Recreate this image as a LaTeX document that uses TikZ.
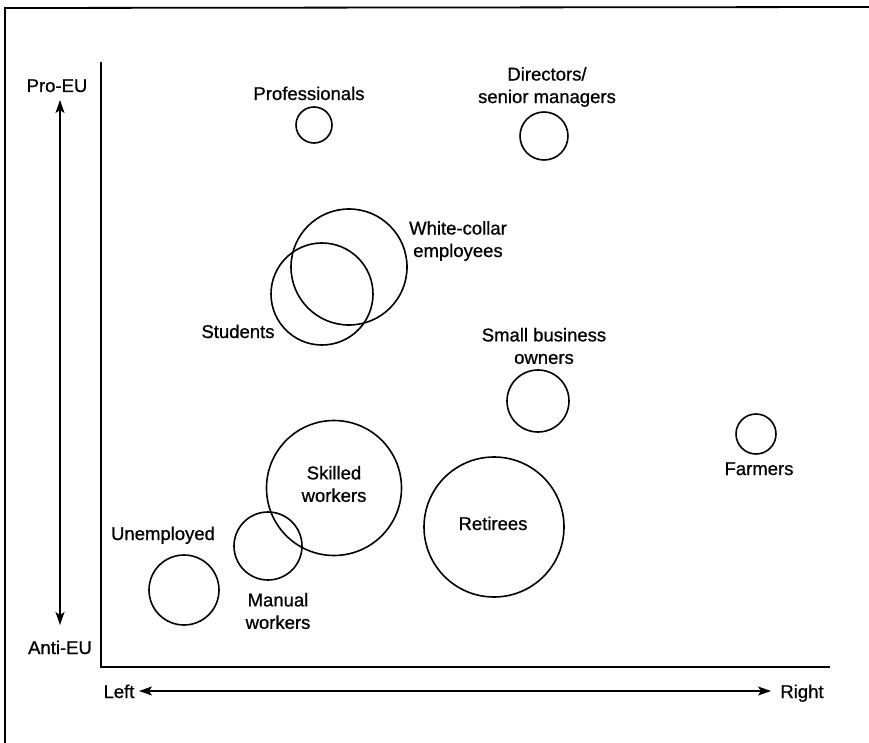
\documentclass[tikz,border=0pt]{standalone}
\usepackage{fontspec}
\setmainfont{Liberation Sans}[BoldFont=Liberation Sans,BoldFeatures={FakeBold=0.8}]
\usetikzlibrary{arrows.meta}
\begin{document}
\begin{tikzpicture}[x=1pt,y=-1pt,
  grp/.style={circle,draw,line width=1.6pt,minimum size=#1,inner sep=0pt},
  lbl/.style={font=\fontsize{18.5}{22.5}\selectfont\bfseries,align=center,inner sep=0pt},
  axisline/.style={line width=1.8pt},
  dbl/.style={line width=1.5pt,{Stealth[length=13pt,width=9pt,inset=3pt]}-{Stealth[length=13pt,width=9pt,inset=3pt]}}]
\useasboundingbox (0,0) rectangle (869,743);
% frame
\coordinate (fbl) at (5,743);
\coordinate (ftl) at (5,8);
\coordinate (ftr) at (869,7);
\draw[axisline] (fbl) -- (ftl) -- (ftr);
% axes
\coordinate (ytop) at (101,62);
\coordinate (orig) at (101,667);
\coordinate (xend) at (830,667);
\draw[axisline] (ytop) -- (orig) -- (xend);
% axis labels
\node[lbl,anchor=base] (proeu) at (57,92) {Pro-EU};
\node[lbl,anchor=base] (antieu) at (60,654) {Anti-EU};
\node[lbl,anchor=base] (lft) at (119,698) {Left};
\node[lbl,anchor=base] (rgt) at (802,698) {Right};
\coordinate (vup) at (60,100);
\coordinate (vdn) at (60,625);
\coordinate (hl) at (139,691);
\coordinate (hr) at (771,691);
\draw[dbl] (vup) -- (vdn);
\draw[dbl] (hl) -- (hr);
% groups
\node[grp=36pt] (prof) at (314,125) {};
\node[grp=48pt] (dir) at (544,136) {};
\node[grp=116pt] (white) at (349,267) {};
\node[grp=102pt] (stud) at (322,294) {};
\node[grp=62pt] (small) at (538,401) {};
\node[grp=40pt] (farm) at (756,434) {};
\node[grp=135pt] (skill) at (334,488) {};
\node[grp=140pt] (ret) at (494,527) {};
\node[grp=68pt] (man) at (268,546) {};
\node[grp=70pt] (unemp) at (184,590) {};
% labels
\node[lbl,anchor=base] (profl) at (309,100) {Professionals};
\node[lbl] (dirl) at (547,87) {Directors/\\senior managers};
\node[lbl] (whitel) at (458,241) {White-collar\\employees};
\node[lbl,anchor=base] (studl) at (238,338) {Students};
\node[lbl] (smalll) at (544,346) {Small business\\owners};
\node[lbl,anchor=base] (farml) at (759,475) {Farmers};
\node[lbl] (skilll) at (334,484) {Skilled\\workers};
\node[lbl,anchor=base] (retl) at (493,530) {Retirees};
\node[lbl,anchor=base] (unempl) at (163,540) {Unemployed};
\node[lbl] (manl) at (278,611) {Manual\\workers};
\end{tikzpicture}
\end{document}
